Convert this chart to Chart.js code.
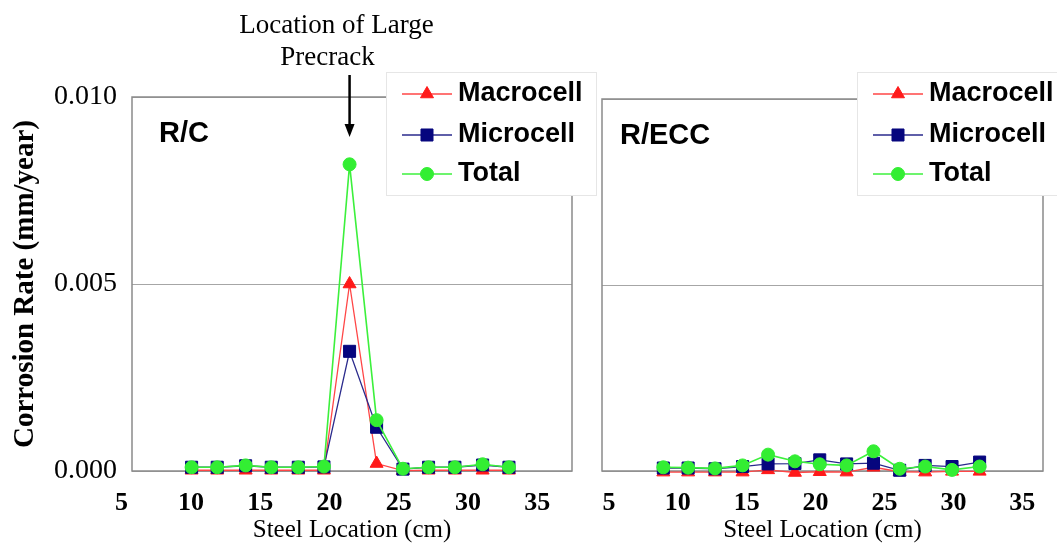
<!DOCTYPE html>
<html>
<head>
<meta charset="utf-8">
<title>Corrosion Rate - R/C vs R/ECC</title>
<script src="https://cdn.jsdelivr.net/npm/chart.js@4.4.1/dist/chart.umd.min.js"></script>
<style>
    body { margin: 0; background: #fff; }
    #wrap { position: relative; width: 1057px; height: 547px; }
    #wrap canvas { position: absolute; left: 0; top: 0; }
</style>
</head>
<body>
<div id="wrap">
    <canvas id="rcChart" width="1057" height="547"></canvas>
    <canvas id="eccChart" width="1057" height="547"></canvas>
</div>
<script>
const seriesNames = ["Macrocell", "Microcell", "Total"];
const xTicks = [5, 10, 15, 20, 25, 30, 35];
const yTicks = [0, 0.005, 0.010];

// R/C specimen (cm, mm/year)
const rcXRange = [5.75, 37.5];
const rcLocation = [10.05, 11.9, 13.95, 15.8, 17.75, 19.6, 21.45, 23.4, 25.3, 27.15, 29.05, 31.05, 32.95];
const rcMacrocell = [0.00002, 0.00002, 0.00002, 0.00002, 0.00002, 0.00002, 0.0050, 0.0002, 0.00001, 0.00002, 0.00002, 0.00002, 0.00002];
const rcMicrocell = [0.0001, 0.0001, 0.00014, 0.0001, 0.0001, 0.00011, 0.0032, 0.00117, 0.00005, 0.0001, 0.0001, 0.00016, 0.0001];
const rcTotal = [0.0001, 0.0001, 0.00015, 0.0001, 0.0001, 0.00012, 0.0082, 0.00136, 0.00006, 0.0001, 0.0001, 0.00018, 0.0001];

// R/ECC specimen
const eccXRange = [4.5, 36.5];
const eccLocation = [8.95, 10.75, 12.7, 14.7, 16.55, 18.5, 20.3, 22.25, 24.2, 26.1, 27.95, 29.9, 31.9];
const eccMacrocell = [-0.00003, -0.00003, -0.00003, -0.00003, 0.00003, -0.00004, -0.00002, -0.00003, 0.0001, -0.00002, -0.00003, -0.00001, -0.00001];
const eccMicrocell = [0.00008, 0.00008, 0.00006, 0.00012, 0.00019, 0.0002, 0.0003, 0.00019, 0.00021, 0.00002, 0.00015, 0.00012, 0.00024];
const eccTotal = [0.0001, 0.00009, 0.00007, 0.00015, 0.00044, 0.00026, 0.00018, 0.00015, 0.00053, 0.00006, 0.00012, 0.00003, 0.00012];

const precrackLocation = 21.45;

const seriesStyle = [
    { line: "#ff4646", fill: "#ff1a1a", point: "triangle", radius: 7.5, width: 1.3 },
    { line: "#2a2a8c", fill: "#06067e", point: "rect", radius: 8.5, width: 1.3 },
    { line: "#3cf03c", fill: "#33ee33", point: "circle", radius: 6.5, width: 1.6 }
];

const serif = "'Liberation Serif', 'Times New Roman', serif";
const sans = "'Liberation Sans', Arial, sans-serif";

function drawMarker(ctx, style, x, y) {
    ctx.fillStyle = style.fill;
    ctx.strokeStyle = style.fill;
    ctx.lineWidth = 1;
    Chart.helpers.drawPoint(ctx, { pointStyle: style.point, radius: style.radius, rotation: 0, borderWidth: 1 }, x, y);
}

const panelDecor = {
    id: "panelDecor",
    beforeDatasetsDraw(chart) {
        const a = chart.chartArea;
        const ctx = chart.ctx;
        ctx.save();
        ctx.strokeStyle = "#8a8a8a";
        ctx.lineWidth = 1.5;
        ctx.strokeRect(a.left, a.top, a.right - a.left, a.bottom - a.top);
        ctx.restore();
    },
    afterDraw(chart, args, opts) {
        const a = chart.chartArea;
        const ctx = chart.ctx;
        ctx.save();

        // specimen name
        ctx.fillStyle = "#000";
        ctx.font = "bold 29px " + sans;
        ctx.textBaseline = "middle";
        ctx.textAlign = "left";
        ctx.fillText(opts.name, a.left + opts.nameDx, a.top + 37);

        // legend box
        const bx = a.right - 186;
        const by = 72;
        ctx.fillStyle = "#fff";
        ctx.fillRect(bx, by, 210, 123);
        ctx.strokeStyle = "#e6e6e6";
        ctx.lineWidth = 1;
        ctx.strokeRect(bx + 0.5, by + 0.5, 210, 123);

        const rows = [22, 63, 102];
        chart.data.datasets.forEach((ds, i) => {
            const st = seriesStyle[i];
            const y = by + rows[i];
            ctx.strokeStyle = st.line;
            ctx.lineWidth = 1.5;
            ctx.beginPath();
            ctx.moveTo(bx + 16, y);
            ctx.lineTo(bx + 66, y);
            ctx.stroke();
            drawMarker(ctx, st, bx + 41, y);
            ctx.fillStyle = "#000";
            ctx.font = "bold 27px " + sans;
            ctx.textAlign = "left";
            ctx.textBaseline = "middle";
            ctx.fillText(ds.label, bx + 72, y);
        });

        // precrack note with arrow
        if (opts.note) {
            const ax = chart.scales.x.getPixelForValue(opts.note.at);
            ctx.fillStyle = "#000";
            ctx.font = "27px " + serif;
            ctx.textAlign = "center";
            ctx.textBaseline = "middle";
            ctx.fillText(opts.note.lines[0], ax - 13, 26);
            ctx.fillText(opts.note.lines[1], ax - 22, 58);

            ctx.strokeStyle = "#000";
            ctx.lineWidth = 2.5;
            ctx.beginPath();
            ctx.moveTo(ax, 75);
            ctx.lineTo(ax, 126);
            ctx.stroke();
            ctx.beginPath();
            ctx.moveTo(ax - 5, 124);
            ctx.lineTo(ax + 5, 124);
            ctx.lineTo(ax, 137);
            ctx.closePath();
            ctx.fill();
        }
        ctx.restore();
    }
};

function makeDatasets(location, series) {
    return series.map((vals, i) => {
        const st = seriesStyle[i];
        return {
            label: seriesNames[i],
            data: location.map((x, k) => ({ x: x, y: vals[k] })),
            borderColor: st.line,
            borderWidth: st.width,
            pointStyle: st.point,
            pointRadius: st.radius,
            pointHoverRadius: st.radius,
            pointBackgroundColor: st.fill,
            pointBorderColor: st.fill,
            pointBorderWidth: 1,
            tension: 0,
            clip: false,
            order: 2 - i
        };
    });
}

function renderPanel(canvasId, location, series, panel) {
    const ctx = document.getElementById(canvasId);

    return new Chart(ctx, {
        type: "line",
        data: { datasets: makeDatasets(location, series) },
        plugins: [panelDecor],
        options: {
            responsive: false,
            animation: false,
            devicePixelRatio: 1,
            events: [],
            layout: { padding: panel.padding },
            plugins: {
                legend: { display: false },
                tooltip: { enabled: false },
                panelDecor: { name: panel.name, nameDx: panel.nameDx, note: panel.note }
            },
            scales: {
                x: {
                    type: "linear",
                    min: panel.xRange[0],
                    max: panel.xRange[1],
                    afterBuildTicks: s => { s.ticks = xTicks.map(v => ({ value: v })); },
                    afterFit: s => { s.height = 76; },
                    grid: { display: false },
                    border: { display: false },
                    ticks: {
                        color: "#000",
                        padding: 9,
                        maxRotation: 0,
                        autoSkip: false,
                        font: { family: serif, size: 26, weight: "bold" }
                    },
                    title: {
                        display: true,
                        text: "Steel Location (cm)",
                        color: "#000",
                        padding: { top: 0, bottom: 2 },
                        font: { family: serif, size: 25 }
                    }
                },
                y: {
                    min: yTicks[0],
                    max: yTicks[yTicks.length - 1],
                    afterBuildTicks: s => { s.ticks = yTicks.map(v => ({ value: v })); },
                    afterFit: s => { s.width = panel.yWidth; },
                    grid: { color: "#a6a6a6", lineWidth: 1, drawTicks: false },
                    border: { display: false },
                    ticks: {
                        display: panel.showY,
                        color: "#000",
                        padding: 15,
                        callback: v => v.toFixed(3),
                        font: { family: serif, size: 28 }
                    },
                    title: {
                        display: panel.showY,
                        text: "Corrosion Rate (mm/year)",
                        color: "#000",
                        padding: { top: 8, bottom: 0 },
                        font: { family: serif, size: 29, weight: "bold" }
                    }
                }
            }
        }
    });
}

renderPanel("rcChart", rcLocation, [rcMacrocell, rcMicrocell, rcTotal], {
    name: "R/C",
    nameDx: 27,
    xRange: rcXRange,
    yWidth: 132,
    showY: true,
    padding: { top: 97, right: 485, bottom: 0, left: 0 },
    note: { at: precrackLocation, lines: ["Location of Large", "Precrack"] }
});

renderPanel("eccChart", eccLocation, [eccMacrocell, eccMicrocell, eccTotal], {
    name: "R/ECC",
    nameDx: 18,
    xRange: eccXRange,
    yWidth: 602,
    showY: false,
    padding: { top: 99, right: 14, bottom: 0, left: 0 },
    note: null
});
</script>
</body>
</html>
